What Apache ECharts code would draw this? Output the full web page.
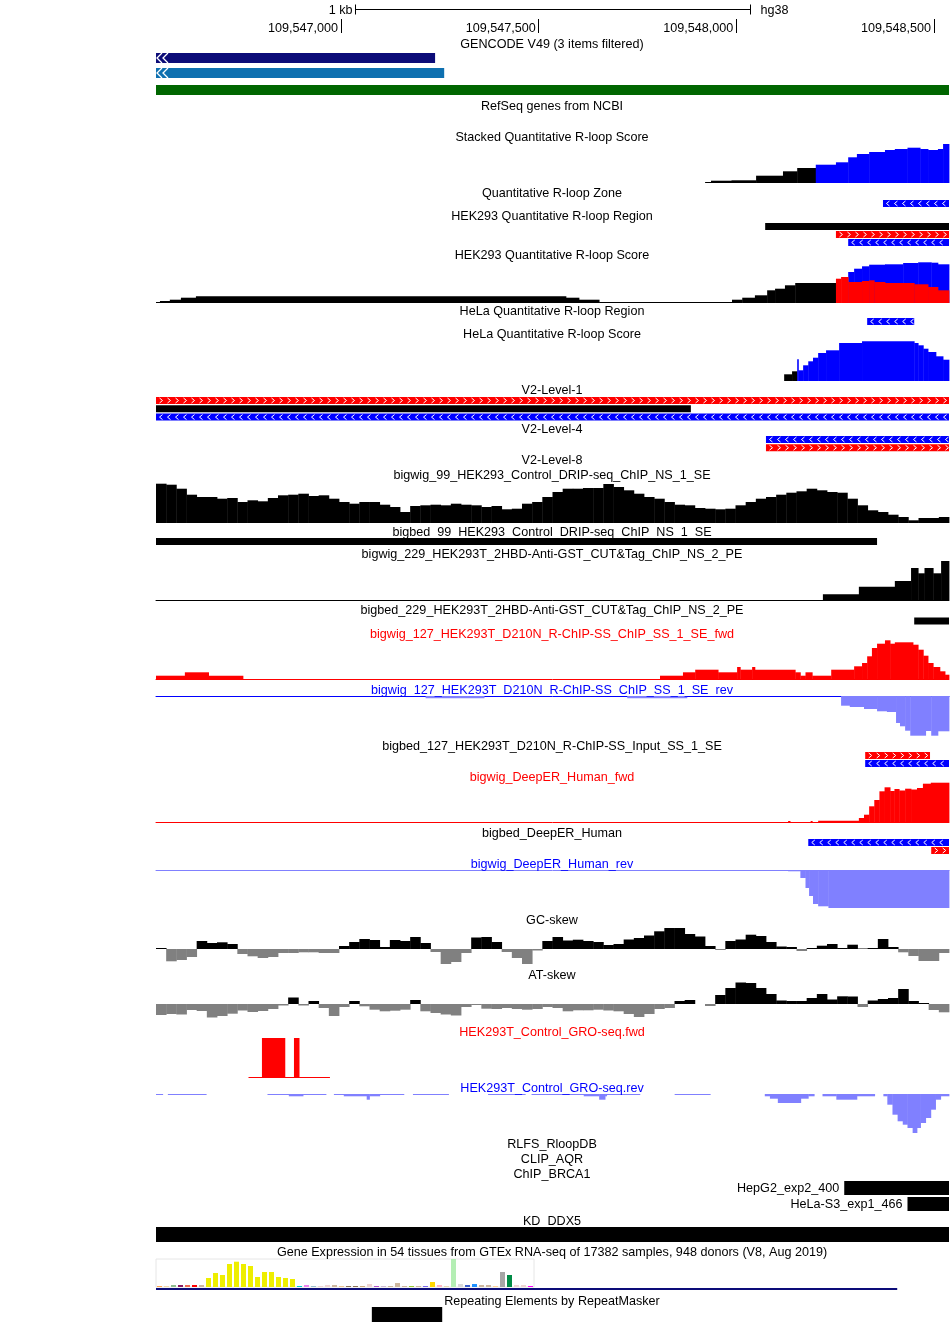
<!DOCTYPE html>
<html>
<head>
<meta charset="utf-8">
<title>R-loop browser tracks</title>
<script src="https://cdn.jsdelivr.net/npm/echarts@6/dist/echarts.min.js"></script>
<style>
html, body { margin: 0; padding: 0; background: #fff; }
#main { width: 950px; height: 1323px; }
</style>
</head>
<body>
<div id="main"></div>
<script>
// window shown by the browser (hg38)
var VIEW_START = 109546532;
var VIEW_END = 109548538;
var VIEW_SPAN = VIEW_END - VIEW_START;
var RULER_TICKS = [109547000, 109547500, 109548000, 109548500];
var SCALE_BAR = [109547035, 1000];   // start, length in bp

// all positions below are bp offsets from VIEW_START
// bed features: [start, end, row, strand, name]
var gencodeTx = [[0, 706, 0, '-'], [0, 729, 1, '-']];
var refseqGenes = [[0, 2006, 0, '-']];
var rloopZone = [[1839, 2006, 0, '-']];
var hek293Region = [[1541, 2006, 0, '.'], [1720, 2006, 1, '+'], [1751, 2006, 2, '-']];
var helaRegion = [[1799, 1918, 0, '-']];
var v2Level1 = [[0, 2006, 0, '+'], [0, 1353, 1, '.'], [0, 2006, 2, '-']];
var v2Level4 = [[1543, 2006, 0, '-'], [1543, 2006, 1, '+']];
var dripPeaks = [[0, 1824, 0, '.']];
var cutTagPeaks = [[1918, 2006, 0, '.']];
var rchipInputPeaks = [[1794, 1958, 0, '+'], [1794, 2006, 1, '-']];
var deeperPeaks = [[1650, 2006, 0, '-'], [1961, 2006, 1, '+']];
var brca1Peaks = [[1741, 2006, 0, '.', 'HepG2_exp2_400'], [1901, 2006, 1, '.', 'HeLa-S3_exp1_466']];
var kdDdx5 = [[0, 2006, 0, '.']];
var gtexGeneSpan = [[0, 1875, 0, '.']];
var repeatMasker = [[546, 724, 0, '.']];

// signal segments: [start, end, value]
var stackedScoreBlack = [[1389, 1404, 1], [1404, 1456, 2.3], [1456, 1518, 2.7], [1518, 1586, 7.3], [1586, 1622, 11.7], [1622, 1669, 15]];
var stackedScoreBlue = [[1669, 1720, 18.3], [1720, 1751, 20.7], [1751, 1773, 25.7], [1773, 1804, 29], [1804, 1844, 31], [1844, 1869, 33],
  [1869, 1901, 34], [1901, 1933, 35.3], [1933, 1953, 34], [1953, 1978, 33], [1978, 1991, 34], [1991, 2006, 39]];

var hek293ScoreBlack = [[0, 10, 1], [10, 35, 2], [35, 63, 3.3], [63, 101, 5.3], [101, 1037, 6.7], [1037, 1070, 5.3], [1070, 1121, 3.3],
  [1121, 1457, 1], [1457, 1483, 3.3], [1483, 1515, 5.3], [1515, 1546, 7.7], [1546, 1566, 12.7], [1566, 1591, 14.3], [1591, 1617, 17.7], [1617, 1720, 20]];
var hek293ScoreFwd = [[1720, 1733, 24.3], [1733, 1751, 26], [1751, 1786, 21], [1786, 1804, 22], [1804, 1817, 22.7], [1817, 1844, 21],
  [1844, 1918, 20], [1918, 1953, 18.7], [1953, 1978, 16], [1978, 2006, 12.7]];
var hek293ScoreStackTop = [[1751, 1766, 31], [1766, 1786, 34.3], [1786, 1804, 36.7], [1804, 1844, 38.3], [1844, 1890, 38.7],
  [1890, 1928, 40], [1928, 1961, 40.7], [1961, 1978, 40.3], [1978, 2006, 38.7]];

var helaScoreBlack = [[1589, 1609, 6.7], [1609, 1622, 9.7]];
var helaScoreBlue = [[1622, 1625, 21.7], [1625, 1637, 10.7], [1637, 1650, 15.7], [1650, 1662, 19.7], [1662, 1675, 23.3], [1675, 1695, 28],
  [1695, 1728, 30.7], [1728, 1786, 38], [1786, 1918, 39.7], [1918, 1928, 38], [1928, 1941, 35.7], [1941, 1953, 32.3], [1953, 1973, 29],
  [1973, 1991, 24.7], [1991, 2006, 21.3]];

// evenly binned across the window
var dripSignal = [39.3, 38.3, 34.3, 28.3, 26, 26, 24.3, 25, 21, 22.7, 21.7, 25, 27.7, 28.3, 29.3, 27, 27.7, 24.3, 21, 19.3,
  21, 21, 18.3, 16, 11, 17, 17.7, 18.3, 17.7, 19.3, 18.3, 17.7, 16, 17, 13.7, 14.3, 19.3, 21, 26, 31,
  34.3, 34.3, 35, 35, 39, 36, 32.7, 29.3, 26, 24.3, 21, 18.3, 17.7, 15, 14.3, 13.7, 14.3, 17.7, 21, 24.3,
  26, 28.3, 30.3, 31.7, 34.3, 32.7, 31, 30.3, 24.3, 17.7, 12.7, 11, 8.3, 6, 2.7, 5, 5, 6];

var cutTagSignal = [[1687, 1778, 5.7], [1778, 1869, 13.3], [1869, 1910, 19], [1910, 1928, 32], [1928, 1944, 26.7], [1944, 1966, 32],
  [1966, 1986, 26.7], [1986, 2006, 39]];

var rchipFwd = [[0, 73, 3.3], [73, 133, 6.7], [133, 220, 3.3], [1275, 1333, 3.3], [1333, 1364, 6.7], [1364, 1422, 9.3], [1422, 1470, 6.7],
  [1470, 1478, 12], [1478, 1508, 9.3], [1508, 1515, 12], [1515, 1617, 9.3], [1617, 1630, 6.7], [1630, 1643, 3.3], [1643, 1660, 6.7],
  [1660, 1708, 3.3], [1708, 1766, 9.3], [1766, 1786, 12.7], [1786, 1799, 16], [1799, 1811, 22.7], [1811, 1824, 31], [1824, 1844, 35.3],
  [1844, 1857, 38.7], [1857, 1869, 35.3], [1869, 1915, 36.7], [1915, 1928, 34.3], [1928, 1941, 29.3], [1941, 1953, 23.3], [1953, 1966, 16],
  [1966, 1983, 12], [1983, 1996, 7.7], [1996, 2006, 4.3]];
var rchipRev = [[682, 830, -2.3], [1192, 1343, -2.3], [1733, 1755, -9.7], [1755, 1791, -11], [1791, 1824, -13], [1824, 1849, -15.3],
  [1849, 1872, -16], [1872, 1882, -27], [1882, 1895, -30.3], [1895, 1908, -34.7], [1908, 1947, -39.7], [1947, 1961, -35],
  [1961, 1978, -39.7], [1978, 2006, -35.3]];

var deeperFwd = [[1599, 1604, 1], [1656, 1660, 1], [1675, 1778, 1.3], [1778, 1791, 4], [1791, 1804, 7.3], [1804, 1817, 15.7],
  [1817, 1830, 22], [1830, 1843, 30.7], [1843, 1857, 34.7], [1857, 1868, 31], [1868, 1880, 33], [1880, 1895, 31.5], [1895, 1910, 33.3],
  [1910, 1925, 32.5], [1925, 1940, 34], [1940, 1960, 38.3], [1960, 2006, 39.3]];
var deeperRev = [[1575, 1599, -0.7], [1599, 1630, -1.3], [1630, 1643, -8], [1643, 1652, -18], [1652, 1662, -26], [1662, 1675, -34],
  [1675, 1701, -36.3], [1701, 2006, -38]];

var gcSkew = [1, -12.3, -11, -8, 8, 6, 6.7, 5, -5, -7.3, -9, -8, -4, -4, -3.3, -3.3, -4, -4, 3, 7,
  10, 9, 2, 9, 8, 12, 6, -3, -15, -13, -4, 11.5, 12, 7, -3, -9, -15, -1.5, 8, 12,
  8.5, 9.3, 8, 7, 4, 5, 9.5, 11, 13.5, 17.7, 21, 21, 15, 12.5, 3, -1, 8, 9.5, 14.3, 13,
  7, 2.5, 2, -2, 1, 3.3, 5, 1, 4.3, 0.5, 1, 10, 2, -3.3, -7, -12, -12, -4];
var atSkew = [-11, -10, -10.5, -6, -7, -13.5, -12, -9.7, -6.5, -8, -7, -5, -1.5, 6.5, -1.5, 3, -4, -12, -3, 3,
  -2.3, -5.7, -7.3, -6.7, -5.7, 4, -7.3, -9, -10.5, -11.5, -3, -1, -4.7, -5, -4, -5, -5.7, -5, -3, -4,
  -7.3, -6.3, -6.3, -5.7, -6.5, -7.3, -10, -13, -10, -5, -4, 3, 4, 0, -2, 9, 16, 21.5, 21, 16,
  10, 3.5, 3, 3, 6, 10, 4.5, 7.7, 7.5, -3, 3.5, 5, 6, 15, 3, 1, -6, -8.3];

var groFwd = [[234, 268, 1], [268, 326, 40], [326, 349, 1], [349, 362, 40], [362, 439, 1]];
var groRev = [[0, 17, -1], [30, 127, -1], [282, 336, -1], [336, 372, -2.3], [372, 430, -1], [450, 475, -1], [475, 533, -2.3],
  [533, 540, -5.7], [540, 566, -2.3], [566, 627, -1], [650, 740, -1], [840, 934, -1], [950, 1082, -1], [1082, 1121, -2.3],
  [1121, 1136, -5.7], [1136, 1140, -2.3], [1140, 1224, -1], [1312, 1402, -1], [1540, 1553, -2.3], [1553, 1573, -4.7],
  [1573, 1631, -9], [1631, 1650, -4.7], [1650, 1665, -2.3], [1686, 1721, -2.3], [1721, 1773, -5.7], [1773, 1818, -2.3],
  [1840, 1850, -2.3], [1850, 1863, -10.7], [1863, 1876, -20.7], [1876, 1889, -27.3], [1889, 1901, -30.7], [1901, 1914, -34],
  [1914, 1925, -39], [1925, 1934, -34], [1934, 1947, -29], [1947, 1960, -24], [1960, 1972, -15.7], [1972, 1985, -5.7], [1985, 2006, -2.3]];

var gtexTissues = ['Adipose - Subcutaneous', 'Adipose - Visceral (Omentum)', 'Adrenal Gland', 'Artery - Aorta', 'Artery - Coronary',
  'Artery - Tibial', 'Bladder', 'Brain - Amygdala', 'Brain - Anterior cingulate cortex (BA24)', 'Brain - Caudate (basal ganglia)',
  'Brain - Cerebellar Hemisphere', 'Brain - Cerebellum', 'Brain - Cortex', 'Brain - Frontal Cortex (BA9)', 'Brain - Hippocampus',
  'Brain - Hypothalamus', 'Brain - Nucleus accumbens (basal ganglia)', 'Brain - Putamen (basal ganglia)',
  'Brain - Spinal cord (cervical c-1)', 'Brain - Substantia nigra', 'Breast - Mammary Tissue', 'Cells - EBV-transformed lymphocytes',
  'Cells - Cultured fibroblasts', 'Cervix - Ectocervix', 'Cervix - Endocervix', 'Colon - Sigmoid', 'Colon - Transverse',
  'Esophagus - Gastroesophageal Junction', 'Esophagus - Mucosa', 'Esophagus - Muscularis', 'Fallopian Tube',
  'Heart - Atrial Appendage', 'Heart - Left Ventricle', 'Kidney - Cortex', 'Kidney - Medulla', 'Liver', 'Lung',
  'Minor Salivary Gland', 'Muscle - Skeletal', 'Nerve - Tibial', 'Ovary', 'Pancreas', 'Pituitary', 'Prostate',
  'Skin - Not Sun Exposed (Suprapubic)', 'Skin - Sun Exposed (Lower leg)', 'Small Intestine - Terminal Ileum', 'Spleen',
  'Stomach', 'Testis', 'Thyroid', 'Uterus', 'Vagina', 'Whole Blood'];
var gtexValues = [1, 0.3, 2, 2, 2, 2, 2, 9, 14, 12, 23, 25.3, 23, 21, 10, 15, 15, 10, 9, 8,
  1, 2, 1, 1, 2, 2, 1, 1, 1, 1, 3, 1, 0.3, 1, 4, 1, 1, 1, 1, 5,
  2, 0.3, 28, 3, 2, 3, 2, 2, 1, 15, 12, 2, 2, 1];
var gtexColors = ['#FFA54F', '#EE9A00', '#8FBC8F', '#8B1C62', '#EE6A50', '#FF0000', '#CDB79E',
  '#EEEE00', '#EEEE00', '#EEEE00', '#EEEE00', '#EEEE00', '#EEEE00', '#EEEE00', '#EEEE00', '#EEEE00', '#EEEE00', '#EEEE00', '#EEEE00', '#EEEE00',
  '#00CDCD', '#EE82EE', '#9AC0CD', '#EED5D2', '#EED5D2', '#CDB79E', '#EEC591', '#8B7355', '#8B7355', '#CDAA7D', '#EED5D2',
  '#B452CD', '#7A378B', '#CDB79E', '#CDB79E', '#CDB79E', '#9ACD32', '#CDB79E', '#7A67EE', '#FFD700', '#FFB6C1', '#CD9B1D',
  '#B4EEB4', '#D9D9D9', '#3A5FCD', '#1E90FF', '#CDB79E', '#CDB79E', '#FFD39B', '#A6A6A6', '#008B45', '#EED5D2', '#EED5D2', '#FF00FF'];

var RED = '#ff0000', BLUE = '#0000ff', LIGHTBLUE = '#8080ff', GRAY = '#808080';
var FONT_FAMILY = '"Liberation Sans", Arial, sans-serif';
var FONT_SIZE = 12.6;
var FONT = FONT_SIZE + 'px ' + FONT_FAMILY;
var STRAND_COLOR = { '+': RED, '-': BLUE, '.': '#000' };

// track titles: text, centre y, colour
var trackTitles = [
  ['GENCODE V49 (3 items filtered)', 44],
  ['RefSeq genes from NCBI', 106],
  ['Stacked Quantitative R-loop Score', 137],
  ['Quantitative R-loop Zone', 193],
  ['HEK293 Quantitative R-loop Region', 216],
  ['HEK293 Quantitative R-loop Score', 255],
  ['HeLa Quantitative R-loop Region', 311],
  ['HeLa Quantitative R-loop Score', 334],
  ['V2-Level-1', 390],
  ['V2-Level-4', 429],
  ['V2-Level-8', 460],
  ['bigwig_99_HEK293_Control_DRIP-seq_ChIP_NS_1_SE', 475],
  ['bigbed_99_HEK293_Control_DRIP-seq_ChIP_NS_1_SE', 532],
  ['bigwig_229_HEK293T_2HBD-Anti-GST_CUT&Tag_ChIP_NS_2_PE', 554],
  ['bigbed_229_HEK293T_2HBD-Anti-GST_CUT&Tag_ChIP_NS_2_PE', 610],
  ['bigwig_127_HEK293T_D210N_R-ChIP-SS_ChIP_SS_1_SE_fwd', 634, RED],
  ['bigwig_127_HEK293T_D210N_R-ChIP-SS_ChIP_SS_1_SE_rev', 690, BLUE],
  ['bigbed_127_HEK293T_D210N_R-ChIP-SS_Input_SS_1_SE', 746],
  ['bigwig_DeepER_Human_fwd', 777, RED],
  ['bigbed_DeepER_Human', 833],
  ['bigwig_DeepER_Human_rev', 864, BLUE],
  ['GC-skew', 920],
  ['AT-skew', 975],
  ['HEK293T_Control_GRO-seq.fwd', 1032, RED],
  ['HEK293T_Control_GRO-seq.rev', 1088, BLUE],
  ['RLFS_RloopDB', 1144],
  ['CLIP_AQR', 1159],
  ['ChIP_BRCA1', 1174],
  ['KD_DDX5', 1221],
  ['Gene Expression in 54 tissues from GTEx RNA-seq of 17382 samples, 948 donors (V8, Aug 2019)', 1252],
  ['Repeating Elements by RepeatMasker', 1301]
];

var grids = [], xAxes = [], yAxes = [], series = [];

function addGrid(top, height, ymin, ymax, inverse, lineColor) {
  var i = grids.length;
  grids.push({ left: 156, right: 1, top: top, height: height });
  xAxes.push({
    type: 'value', gridIndex: i, min: VIEW_START, max: VIEW_END, show: !!lineColor,
    axisLine: { show: !!lineColor, onZero: true, lineStyle: { color: lineColor || '#000', width: 1 } },
    axisTick: { show: false }, axisLabel: { show: false }, splitLine: { show: false }
  });
  yAxes.push({ type: 'value', gridIndex: i, min: ymin, max: ymax, inverse: !!inverse, show: false });
  return i;
}

function toAbs(segs) {
  return segs.map(function (s) { return [VIEW_START + s[0], VIEW_START + s[1], s[2]]; });
}

function binsToSegs(vals) {
  var w = VIEW_SPAN / vals.length;
  return vals.map(function (v, i) { return [i * w, (i + 1) * w, v]; });
}

function addSignal(gi, segs, color, negColor) {
  series.push({
    type: 'custom', xAxisIndex: gi, yAxisIndex: gi, silent: true,
    encode: { x: [0, 1], y: 2 },
    itemStyle: { color: color },
    data: toAbs(segs),
    renderItem: function (params, api) {
      var v = api.value(2);
      var a = api.coord([api.value(0), v]);
      var b = api.coord([api.value(1), 0]);
      return {
        type: 'rect',
        shape: { x: a[0], y: Math.min(a[1], b[1]), width: b[0] - a[0] + 0.4, height: Math.abs(a[1] - b[1]) },
        style: { fill: (negColor && v < 0) ? negColor : color }
      };
    }
  });
}

function addBed(t) {
  var rows = t.rows || 1;
  var pitch = t.pitch || t.barH;
  var gi = addGrid(t.top, rows * pitch, 0, rows, true);
  series.push({
    type: 'custom', xAxisIndex: gi, yAxisIndex: gi, silent: true,
    encode: { x: [0, 1], y: 2 },
    data: t.data.map(function (d) { return [VIEW_START + d[0], VIEW_START + d[1], d[2]]; }),
    renderItem: function (params, api) {
      var d = t.data[params.dataIndex];
      var a = api.coord([api.value(0), api.value(2)]);
      var b = api.coord([api.value(1), api.value(2)]);
      var x = a[0], w = b[0] - a[0], y = a[1], h = t.barH, cy = y + h / 2;
      var color = t.rowColors ? t.rowColors[d[2]] : (t.color || STRAND_COLOR[d[3]]);
      var kids = [{ type: 'rect', shape: { x: x, y: y, width: w, height: h }, style: { fill: color } }];
      if (t.chevrons && d[3] !== '.') {
        var dir = d[3] === '+' ? 1 : -1;
        for (var cx = x + 5; cx < x + w - 2; cx += 8) {
          kids.push({
            type: 'polyline',
            shape: { points: [[cx - 1.5 * dir, cy - 2.5], [cx + 1.5 * dir, cy], [cx - 1.5 * dir, cy + 2.5]] },
            style: { stroke: '#fff', lineWidth: 1, fill: null }
          });
        }
      }
      if (t.geneArrow) {
        for (var k = 0; k < 2; k++) {
          var px = x + 1 + k * 6;
          kids.push({
            type: 'polyline',
            shape: { points: [[px + 5, y], [px, cy], [px + 5, y + h]] },
            style: { stroke: '#fff', lineWidth: 1.3, fill: null }
          });
        }
      }
      if (d[4]) {
        kids.push({
          type: 'text', x: x - 5, y: cy + 1,
          style: { text: d[4], fill: '#000', font: FONT, textAlign: 'right', textVerticalAlign: 'middle' }
        });
      }
      return { type: 'group', children: kids };
    }
  });
}

// ruler: base-position ticks and the 1 kb scale bar
var rulerGrid = grids.length;
grids.push({ left: 156, right: 1, top: 19, height: 14 });
xAxes.push({
  type: 'value', gridIndex: rulerGrid, min: VIEW_START, max: VIEW_END, position: 'bottom',
  axisLine: { show: false },
  axisTick: { show: true, inside: true, length: 14, customValues: RULER_TICKS, lineStyle: { color: '#000', width: 1 } },
  axisLabel: {
    show: true, inside: true, margin: -2, align: 'right', padding: [0, 3, 0, 0], customValues: RULER_TICKS,
    color: '#000', fontFamily: FONT_FAMILY, fontSize: FONT_SIZE,
    formatter: function (v) { return String(v).replace(/\B(?=(\d{3})+(?!\d))/g, ','); }
  },
  splitLine: { show: false }
});
yAxes.push({ type: 'value', gridIndex: rulerGrid, min: 0, max: 1, show: false });
series.push({
  type: 'custom', xAxisIndex: rulerGrid, yAxisIndex: rulerGrid, silent: true,
  encode: { x: [0, 1], y: 2 },
  data: [[SCALE_BAR[0], SCALE_BAR[0] + SCALE_BAR[1], 0]],
  renderItem: function (params, api) {
    var a = api.coord([api.value(0), 0]), b = api.coord([api.value(1), 0]);
    var y = params.coordSys.y - 10 + 0.5;
    var x0 = Math.round(a[0]) + 0.5, x1 = Math.round(b[0]) + 0.5;
    var ls = { stroke: '#000', lineWidth: 1 };
    return {
      type: 'group', children: [
        { type: 'line', shape: { x1: x0, y1: y, x2: x1, y2: y }, style: ls },
        { type: 'line', shape: { x1: x0, y1: y - 5, x2: x0, y2: y + 5 }, style: ls },
        { type: 'line', shape: { x1: x1, y1: y - 5, x2: x1, y2: y + 5 }, style: ls },
        { type: 'text', x: x0 - 3, y: y + 1, style: { text: '1 kb', fill: '#000', font: FONT, textAlign: 'right', textVerticalAlign: 'middle' } },
        { type: 'text', x: x1 + 10, y: y + 1, style: { text: 'hg38', fill: '#000', font: FONT, textAlign: 'left', textVerticalAlign: 'middle' } }
      ]
    };
  }
});

// annotation tracks
addBed({ data: gencodeTx, rows: 2, top: 53, pitch: 15, barH: 10, rowColors: ['#0c0c78', '#0e70b0'], geneArrow: true });
addBed({ data: refseqGenes, top: 85, barH: 10, color: '#006600' });

var g;
g = addGrid(143, 40, 0, 40);
addSignal(g, stackedScoreBlack, '#000');
addSignal(g, stackedScoreBlue, BLUE);

addBed({ data: rloopZone, top: 200, barH: 7, chevrons: true });
addBed({ data: hek293Region, rows: 3, top: 223, pitch: 8, barH: 7, chevrons: true });

g = addGrid(261, 42, 0, 42);
addSignal(g, hek293ScoreBlack, '#000');
addSignal(g, hek293ScoreStackTop, BLUE);
addSignal(g, hek293ScoreFwd, RED);

addBed({ data: helaRegion, top: 318, barH: 7, chevrons: true });

g = addGrid(341, 40, 0, 40);
addSignal(g, helaScoreBlack, '#000');
addSignal(g, helaScoreBlue, BLUE);

addBed({ data: v2Level1, rows: 3, top: 397, pitch: 8.3, barH: 7, chevrons: true });
addBed({ data: v2Level4, rows: 2, top: 436, pitch: 8.2, barH: 7, chevrons: true });

g = addGrid(482, 41, 0, 41);
addSignal(g, binsToSegs(dripSignal), '#000');
addBed({ data: dripPeaks, top: 538, barH: 7 });

g = addGrid(560, 40, 0, 40, false, '#000');
addSignal(g, cutTagSignal, '#000');
addBed({ data: cutTagPeaks, top: 617.5, barH: 7 });

g = addGrid(639, 40, 0, 40, false, RED);
addSignal(g, rchipFwd, RED);
g = addGrid(696, 40, -40, 0, false, BLUE);
addSignal(g, rchipRev, LIGHTBLUE);
addBed({ data: rchipInputPeaks, rows: 2, top: 752, pitch: 8, barH: 7, chevrons: true });

g = addGrid(782, 40, 0, 40, false, RED);
addSignal(g, deeperFwd, RED);
addBed({ data: deeperPeaks, rows: 2, top: 839, pitch: 8, barH: 7, chevrons: true });
g = addGrid(870, 40, -40, 0, false, LIGHTBLUE);
addSignal(g, deeperRev, LIGHTBLUE);

g = addGrid(925, 48, -24, 24);
addSignal(g, binsToSegs(gcSkew), '#000', GRAY);
g = addGrid(980, 48, -24, 24);
addSignal(g, binsToSegs(atSkew), '#000', GRAY);

g = addGrid(1038, 40, 0, 40);
addSignal(g, groFwd, RED);
g = addGrid(1094, 40, -40, 0);
addSignal(g, groRev, LIGHTBLUE);

addBed({ data: brca1Peaks, rows: 2, top: 1181, pitch: 16, barH: 14 });
addBed({ data: kdDdx5, top: 1227, barH: 15 });

// GTEx per-tissue expression box
var gtexGrid = grids.length;
grids.push({ left: 156, width: 378, top: 1259, height: 28, show: true, borderColor: '#e6e6e6', borderWidth: 1, backgroundColor: '#fff' });
xAxes.push({ type: 'category', gridIndex: gtexGrid, data: gtexTissues, show: false });
yAxes.push({ type: 'value', gridIndex: gtexGrid, min: 0, max: 28, show: false });
series.push({
  type: 'bar', xAxisIndex: gtexGrid, yAxisIndex: gtexGrid, barWidth: 5, silent: true,
  data: gtexValues.map(function (v, i) { return { value: v, itemStyle: { color: gtexColors[i] } }; })
});
addBed({ data: gtexGeneSpan, top: 1288, barH: 2, color: '#0c0c78' });

addBed({ data: repeatMasker, top: 1307, barH: 15 });

var chart = echarts.init(document.getElementById('main'));
chart.setOption({
  animation: false,
  backgroundColor: '#fff',
  grid: grids,
  xAxis: xAxes,
  yAxis: yAxes,
  series: series,
  graphic: {
    elements: trackTitles.map(function (t) {
      return {
        type: 'text', x: 552, y: t[1] + 1, silent: true, z: 100,
        style: { text: t[0], fill: t[2] || '#000', font: FONT, textAlign: 'center', textVerticalAlign: 'middle' }
      };
    })
  }
});
</script>
</body>
</html>
